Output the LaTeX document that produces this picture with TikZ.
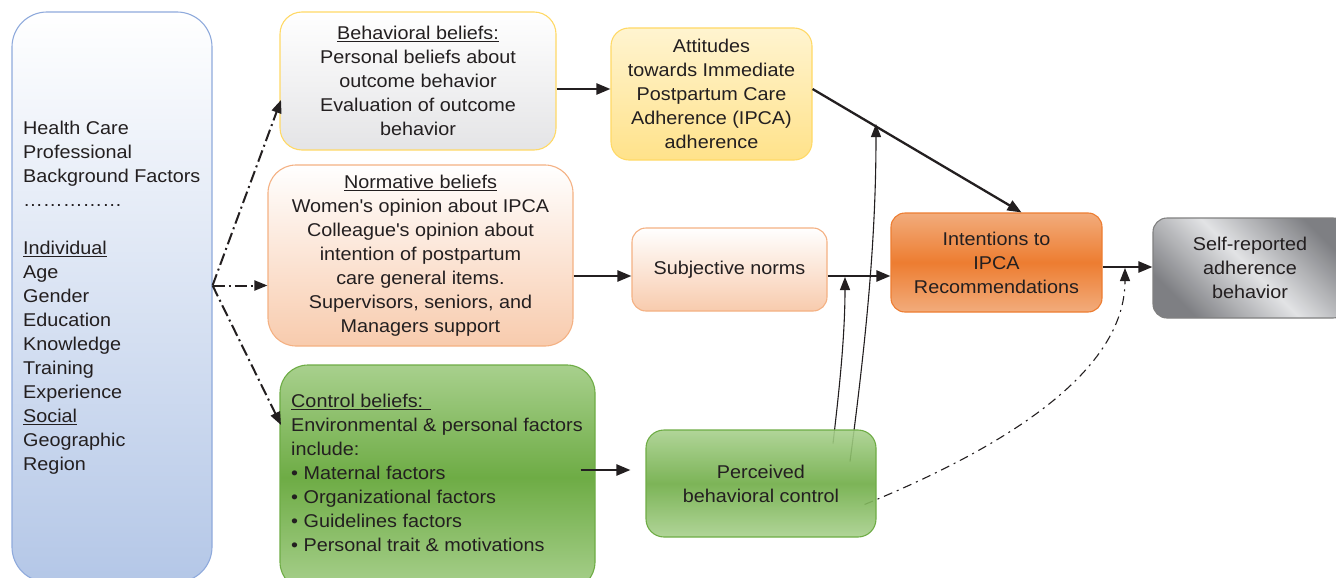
\documentclass[tikz,border=0pt]{standalone}
\usepackage{fontspec}
\setmainfont{Liberation Sans}[FakeStretch=1.07]
\usetikzlibrary{arrows.meta,backgrounds,calc}
\definecolor{txt}{HTML}{231F20}
\definecolor{bluebd}{HTML}{8FAADC}
\definecolor{bluebot}{HTML}{B4C7E7}
\definecolor{yelbd}{HTML}{FFD966}
\definecolor{graybot}{HTML}{E4E4E6}
\definecolor{yeltop}{HTML}{FFF4D0}
\definecolor{yelbot}{HTML}{FFE28A}
\definecolor{peachbd}{HTML}{F4B183}
\definecolor{peachbot}{HTML}{F8CBAD}
\definecolor{orgmid}{HTML}{ED7D31}
\definecolor{orglt}{HTML}{F2AC7C}
\definecolor{grnmid}{HTML}{6EAC45}
\definecolor{grnlt}{HTML}{A8D08D}
\definecolor{slvdk}{HTML}{7E7F83}
\definecolor{slvlt}{HTML}{E2E3E5}
\definecolor{slvbd}{HTML}{808080}
\tikzset{
  box/.style={rectangle, line width=1.1pt, align=center, text=txt, inner sep=0pt,
    font=\fontsize{18.5}{24}\selectfont},
  arr/.style={line width=2.3pt, draw=txt, -{Triangle[length=14pt,width=11pt]}},
  thinarr/.style={line width=1.1pt, draw=txt, -{Triangle[length=13pt,width=10pt]}},
  dd/.style={line width=2pt, draw=txt, dash pattern=on 12pt off 4pt on 2pt off 4pt,
    -{Triangle[length=13pt,width=10pt]}},
  ddthin/.style={line width=1.1pt, draw=txt, dash pattern=on 9pt off 5pt on 2pt off 5pt,
    -{Triangle[length=13pt,width=10pt]}},
  lbl/.style={text=txt, inner sep=0pt, align=left, font=\fontsize{18.5}{24}\selectfont}
}
\begin{document}
\begin{tikzpicture}[x=1pt,y=-1pt]
\useasboundingbox (0,0) rectangle (1336,578);
\begin{scope}
\clip (0,0) rectangle (1336,578);
% boxes
\node[box, draw=bluebd, top color=white, bottom color=bluebot, rounded corners=35pt,
  minimum width=200pt, minimum height=570pt] (lbox) at (112,297) {};
\node[lbl, anchor=west] (ltext) at (23,298) {Health Care\\Professional\\Background Factors\\
…………… \\ \strut\\ \underline{Individual}\\Age\\Gender\\Education\\Knowledge\\Training\\Experience\\
\underline{Social}\\Geographic\\Region};

\node[box, draw=yelbd, top color=white, bottom color=graybot, rounded corners=22pt,
  minimum width=276pt, minimum height=138pt] (beh) at (418,81)
  {\underline{Behavioral beliefs:}\\Personal beliefs about\\outcome behavior\\Evaluation of outcome\\behavior};

\node[box, draw=yelbd, top color=yeltop, bottom color=yelbot, rounded corners=18pt,
  minimum width=201pt, minimum height=132pt] (att) at (711.5,94)
  {Attitudes\\towards Immediate\\Postpartum Care\\Adherence (IPCA)\\adherence};

\node[box, draw=peachbd, top color=white, bottom color=peachbot, rounded corners=28pt,
  minimum width=305pt, minimum height=181pt] (norm) at (420.5,255.5)
  {\underline{Normative beliefs}\\Women\textquotesingle s opinion about IPCA\\Colleague\textquotesingle s opinion about\\intention of postpartum\\care general items.\\Supervisors, seniors, and\\Managers support};

\node[box, draw=peachbd, top color=white, bottom color=peachbot, rounded corners=14pt,
  minimum width=195pt, minimum height=83pt] (subj) at (729.5,269.5)
  {Subjective norms};

\node[box, draw=orgmid, top color=orglt, bottom color=orglt, middle color=orgmid, rounded corners=14pt,
  minimum width=211pt, minimum height=99pt] (int) at (996.5,262.5)
  {Intentions to\\IPCA\\Recommendations};

\node[box, draw=slvbd, top color=slvdk, bottom color=slvdk, middle color=slvlt,
  shading angle=-45, rounded corners=14pt,
  minimum width=194pt, minimum height=100pt] (self) at (1250,268)
  {Self-reported\\adherence\\behavior};

\node[box, draw=grnmid, top color=grnlt, bottom color=grnlt, middle color=grnmid, rounded corners=28pt,
  minimum width=315pt, minimum height=225pt] (ctrl) at (437.5,477.5) {};
\node[lbl, anchor=west] (ctext) at (291,473)
  {\underline{Control beliefs: }\\Environmental \& personal factors\\include:\\• Maternal factors\\• Organizational factors\\• Guidelines factors\\• Personal trait \& motivations};

\node[box, draw=grnmid, top color=grnlt, bottom color=grnlt, middle color=grnmid, rounded corners=18pt,
  fill opacity=0.9, text opacity=1,
  minimum width=230pt, minimum height=107pt] (perc) at (761,483.5)
  {Perceived\\behavioral control};

% junction coordinates
\coordinate (apex) at ([yshift=11.5pt]lbox.east);
\coordinate (j1) at (845,277);
\coordinate (j2) at (876,124);
\coordinate (j3) at (1125,268);

% connectors
\draw[dd] (apex) -- (281,100);
\draw[dd] (apex) -- (apex -| norm.west);
\draw[dd] (apex) -- (281,425);

\draw[arr] ([yshift=-8pt]beh.east) -- ([yshift=-8pt]beh.east -| att.west);
\draw[arr] ([yshift=5pt]att.east) -- ([xshift=25pt]int.north);
\draw[arr] ([yshift=-20.5pt]norm.east) -- ([yshift=-20.5pt]norm.east -| subj.west);
\draw[arr] ([yshift=-6.5pt]subj.east) -- ([yshift=-6.5pt]subj.east -| int.west);
\draw[arr] ([yshift=-4.5pt]int.east) -- ([yshift=-4.5pt]int.east -| self.west);
\draw[arr] ([xshift=-15pt,yshift=7.5pt]ctrl.east) -- ([xshift=-15pt,yshift=7.5pt]ctrl.east -| perc.west);

\begin{scope}[on background layer]
\draw[thinarr] ([xshift=72pt,yshift=-14pt]perc.north) .. controls (838,400) and (845,340) .. (j1);
\draw[thinarr] ([xshift=89pt,yshift=-32pt]perc.north) .. controls (866,340) and (876,240) .. (j2);
\draw[ddthin] ([xshift=-12pt,yshift=-21pt]perc.east) .. controls (1010,445) and (1125,370) .. (j3);
\end{scope}
\end{scope}
\end{tikzpicture}
\end{document}
